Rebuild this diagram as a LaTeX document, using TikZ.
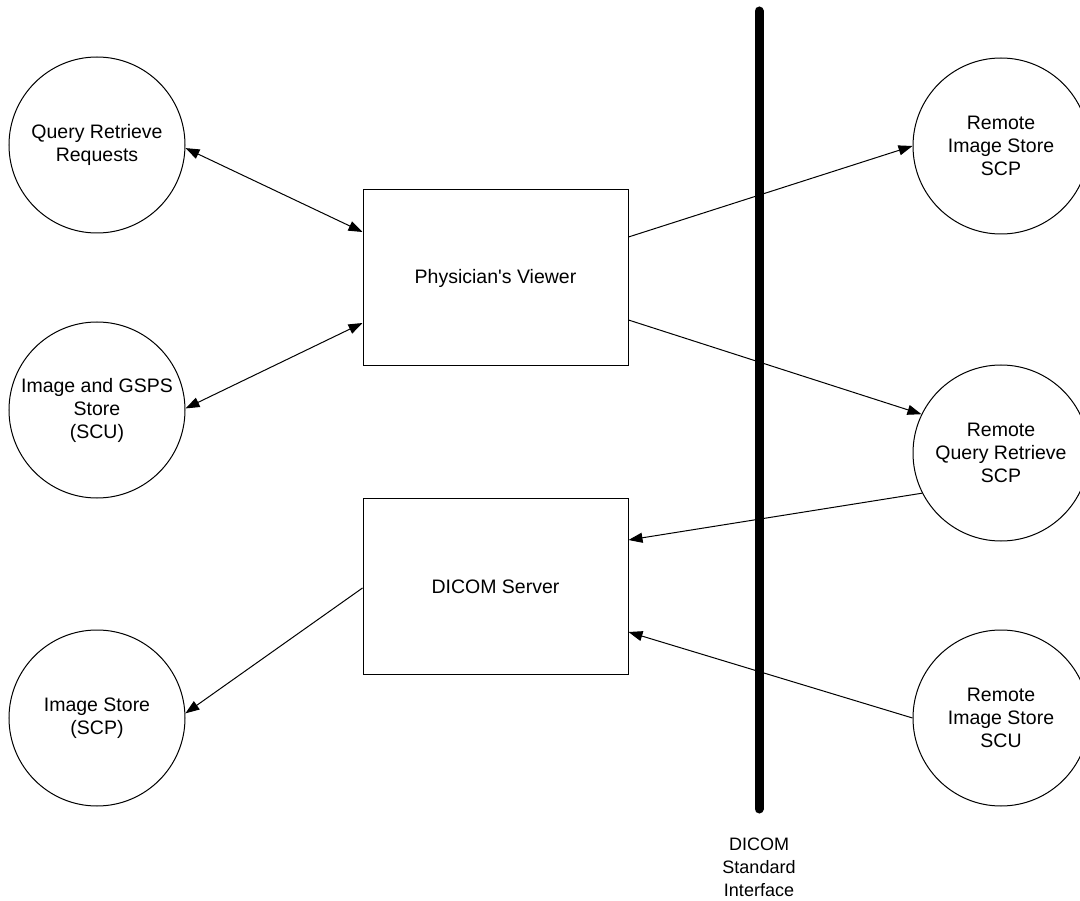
\documentclass[tikz,border=0pt]{standalone}
\usepackage{fontspec}
\setmainfont{Liberation Sans}
\usetikzlibrary{arrows.meta}
\begin{document}
\begin{tikzpicture}[x=1pt,y=-1pt,
  every node/.style={font=\fontsize{19.5}{23}\selectfont},
  proc/.style={circle,draw,line width=1pt,minimum size=176pt,inner sep=0pt,align=center},
  sysbox/.style={rectangle,draw,line width=1pt,minimum width=265pt,minimum height=176pt,inner sep=0pt,align=center},
  link/.style={line width=1pt,-{Triangle[length=14pt,width=10pt]}},
  dlink/.style={line width=1pt,{Triangle[length=14pt,width=10pt]}-{Triangle[length=14pt,width=10pt]}}]
\useasboundingbox (0,0) rectangle (1080,901);
\fill[white] (0,0) rectangle (1080,901);
% interface bar
\coordinate (bartop) at (759,11);
\coordinate (barbot) at (759,809);
\draw[line width=9pt,line cap=round] (bartop) -- (barbot);
\node[align=center,font=\fontsize{18}{23}\selectfont] (ifc) at (759,867) {DICOM\\Standard\\Interface};
% nodes
\node[proc] (qr) at (97,145) {Query Retrieve\\Requests};
\node[proc] (igs) at (97,410) {Image and GSPS\\Store\\(SCU)};
\node[proc] (is) at (97,718) {Image Store\\(SCP)};
\node[sysbox] (pv) at (495.5,278) {Physician\textquotesingle s Viewer};
\node[sysbox] (ds) at (495.5,586.5) {DICOM Server};
\node[proc] (ris) at (1001,146) {Remote\\Image Store\\SCP};
\node[proc] (rqr) at (1001,453) {Remote\\Query Retrieve\\SCP};
\node[proc] (riu) at (1001,718) {Remote\\Image Store\\SCU};
% connectors
\draw[dlink] (qr.-2) -- ([yshift=46pt]pv.west);
\draw[dlink] (igs.1) -- ([yshift=-45pt]pv.west);
\draw[link] ([yshift=41pt]pv.east) -- (ris.180);
\draw[link] ([yshift=-42pt]pv.east) -- (rqr.154);
\draw[link] (rqr.207) -- ([yshift=46.5pt]ds.east);
\draw[link] (riu.180) -- ([yshift=-45.5pt]ds.east);
\draw[link] ([yshift=-1.5pt]ds.west) -- (is.3);
\end{tikzpicture}
\end{document}
